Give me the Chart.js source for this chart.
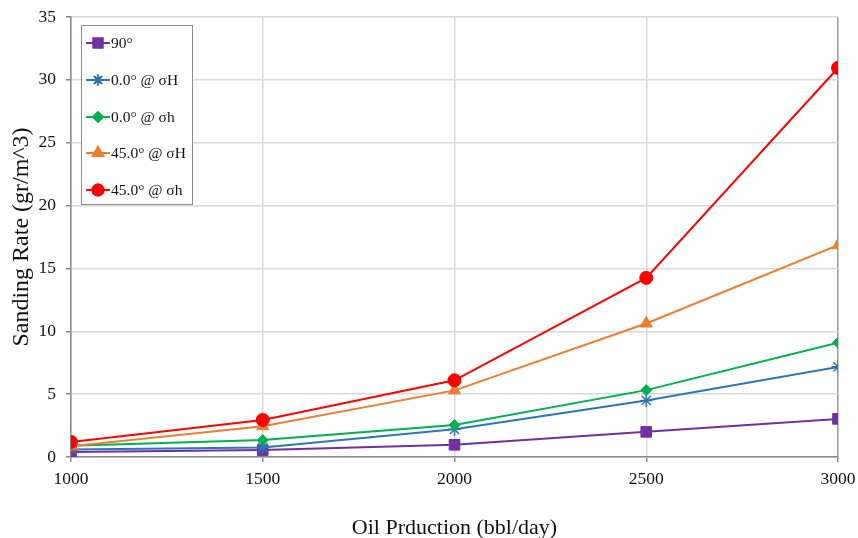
<!DOCTYPE html>
<html>
<head>
<meta charset="utf-8">
<script src="https://cdn.jsdelivr.net/npm/chart.js@4.4.1/dist/chart.umd.min.js"></script>
<style>
	html, body { margin: 0; padding: 0; background: #fff; }
	#wrap { width: 858px; height: 538px; }
</style>
</head>
<body>
<div id="wrap"><canvas id="myChart" width="858" height="538"></canvas></div>
<script>
// oil production (bbl/day)
const production = [1000, 1500, 2000, 2500, 3000];

// sanding rate (gr/m^3) per wellbore orientation
const deg90 = [0.4, 0.55, 0.97, 2.0, 3.03];
const deg0H = [0.6, 0.75, 2.2, 4.5, 7.17];
const deg0h = [0.9, 1.35, 2.55, 5.32, 9.1];
const deg45H = [0.85, 2.45, 5.3, 10.62, 16.85];
const deg45h = [1.2, 2.95, 6.1, 14.25, 30.95];

const seriesNames = ["90°", "0.0° @ σH", "0.0° @ σh", "45.0° @ σH", "45.0° @ σh"];
const yTicks = [0, 5, 10, 15, 20, 25, 30, 35];

const serif = "'Liberation Serif', 'Times New Roman', serif";

function pts(vals) {
	return production.map((x, i) => ({x: x, y: vals[i]}));
}

function series(name, vals, color, style, radius, order) {
	return {
		label: name,
		data: pts(vals),
		borderColor: color,
		backgroundColor: color,
		pointStyle: style,
		pointRadius: radius,
		pointHoverRadius: radius,
		pointBorderWidth: style === 'star' ? 1.5 : 1,
		borderWidth: 2,
		tension: 0,
		order: order
	};
}

// legend drawn inside the plot, top left
const boxLegend = {
	id: 'boxLegend',
	afterDraw(chart) {
		const ctx = chart.ctx;
		ctx.save();
		ctx.fillStyle = '#fff';
		ctx.fillRect(81, 25, 112, 180);
		ctx.strokeStyle = '#8c8c8c';
		ctx.lineWidth = 1;
		ctx.strokeRect(81.5, 25.5, 111, 179);
		const rows = [43, 80, 117, 153, 190];
		chart.data.datasets.forEach((ds, i) => {
			const y = rows[i];
			ctx.strokeStyle = ds.borderColor;
			ctx.lineWidth = 2;
			ctx.beginPath();
			ctx.moveTo(86, y);
			ctx.lineTo(110, y);
			ctx.stroke();
			Chart.helpers.drawPoint(ctx, {
				pointStyle: ds.pointStyle,
				radius: ds.pointRadius * 0.85,
				rotation: 0,
				borderWidth: ds.pointBorderWidth
			}, 98, y);
			ctx.fillStyle = ds.borderColor;
			ctx.fill();
			ctx.stroke();
			ctx.fillStyle = '#111';
			ctx.font = "15.5px " + serif;
			ctx.textBaseline = 'middle';
			ctx.textAlign = 'left';
			ctx.fillText(ds.label, 111, y + 1);
		});
		ctx.restore();
	}
};

const ctx = document.getElementById('myChart');
const myChart = new Chart(ctx, {
	type: 'line',
	data: {
		datasets: [
			series(seriesNames[0], deg90, '#7030a0', 'rect', 7.5, 5),
			series(seriesNames[1], deg0H, '#2e75b6', 'star', 6.5, 4),
			series(seriesNames[2], deg0h, '#00b050', 'rectRot', 5.5, 3),
			series(seriesNames[3], deg45H, '#ed7d31', 'triangle', 7, 2),
			series(seriesNames[4], deg45h, '#ff0000', 'circle', 6.5, 1)
		]
	},
	options: {
		responsive: false,
		animation: false,
		layout: {
			padding: { top: 17, right: 20, left: 0, bottom: 0 }
		},
		plugins: {
			legend: { display: false },
			tooltip: { enabled: false }
		},
		scales: {
			x: {
				type: 'linear',
				min: 1000,
				max: 3000,
				afterBuildTicks: (axis) => { axis.ticks = production.map(v => ({value: v})); },
				afterFit: (axis) => {
					axis.height = 81;
					axis.paddingLeft = 0;
					axis.paddingRight = 0;
				},
				grid: {
					color: (c) => c.index === production.length - 1 ? '#9a9a9a' : '#d9d9d9',
					lineWidth: 1.5,
					tickLength: 5,
					tickColor: '#888'
				},
				border: { color: '#888', width: 1.5 },
				ticks: {
					color: '#111',
					padding: 7,
					maxRotation: 0,
					callback: (v) => String(v),
					font: { family: serif, size: 17.5 }
				},
				title: {
					display: true,
					text: 'Oil Prduction (bbl/day)',
					color: '#111',
					font: { family: serif, size: 22, lineHeight: 0.9 },
					padding: { bottom: 0, top: 0 }
				}
			},
			y: {
				min: 0,
				max: 35,
				afterBuildTicks: (axis) => { axis.ticks = yTicks.map(v => ({value: v})); },
				afterFit: (axis) => {
					axis.width = 71;
					axis.paddingTop = 0;
					axis.paddingBottom = 0;
				},
				grid: {
					color: '#d9d9d9',
					lineWidth: 1.5,
					tickLength: 5,
					tickColor: '#888'
				},
				border: { color: '#888', width: 1.5 },
				ticks: {
					color: '#111',
					padding: 10,
					callback: (v) => String(v),
					font: { family: serif, size: 17.5 }
				},
				title: {
					display: true,
					text: 'Sanding Rate (gr/m^3)',
					color: '#111',
					font: { family: serif, size: 24, lineHeight: 1 },
					padding: { top: 10, bottom: 0 }
				}
			}
		}
	},
	plugins: [boxLegend]
});
</script>
</body>
</html>
